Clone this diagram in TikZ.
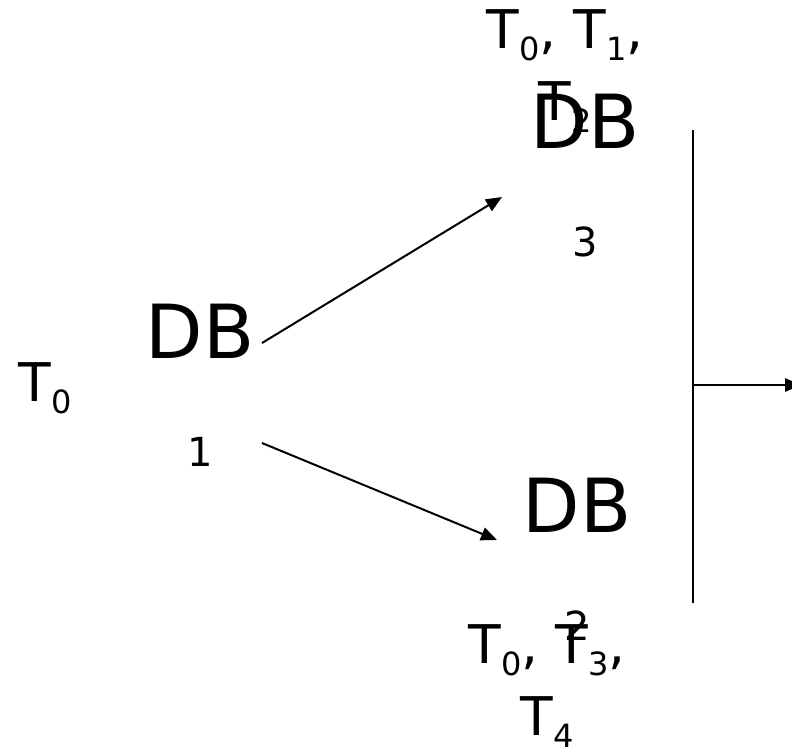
\documentclass[tikz,border=0pt]{standalone}
\usepackage{fontspec}
\setmainfont{DejaVu Sans}
\usetikzlibrary{arrows.meta}
\newcommand{\sub}[1]{\raisebox{-9pt}{\fontsize{24}{24}\selectfont #1}}

\begin{document}
\begin{tikzpicture}[x=0.75pt,y=-0.75pt,line width=1.5pt,
	every node/.style={inner sep=0pt,anchor=base},
	big/.style={font=\fontsize{56}{56}\selectfont},
	small/.style={font=\fontsize{30}{30}\selectfont},
	tlabel/.style={font=\fontsize{40}{54}\selectfont,align=center},
	>={Triangle[length=12pt,width=10pt]}]
	  \clip (0,0) rectangle (792,751);

	  \foreach \i/\x/\y in {1/200/358,3/585/148,2/577/532}{%
	  \node[big] (DB\i) at (\x,\y) {DB};
	  \node[small] (N\i) at (\x,\y+108) {\i};
	  }
	  %base of a two line label is its last line
	  \node[tlabel] (T1) at (45,401) {T\sub{0}};
	  \node[tlabel] (T3) at (565,120) {T\sub{0}, T\sub{1},\\T\sub{2}};
	  \node[tlabel] (T2) at (547,735) {T\sub{0}, T\sub{3},\\T\sub{4}};

	  \coordinate (s3) at (262,343); \coordinate (e3) at (502,197);
	  \coordinate (s2) at (262,443); \coordinate (e2) at (497,540);
	  \foreach \i in {2,3}{\draw[->] (s\i) -- (e\i);}

	  %merge bar and outgoing arrow
	  \coordinate (top) at (693,130); \coordinate (bot) at (693,603);
	  \coordinate (mid) at (693,385); \coordinate (out) at (801,385);
	  \draw (top) -- (bot);
	  \draw[->] (mid) -- (out);
	\end{tikzpicture}
\end{document}
